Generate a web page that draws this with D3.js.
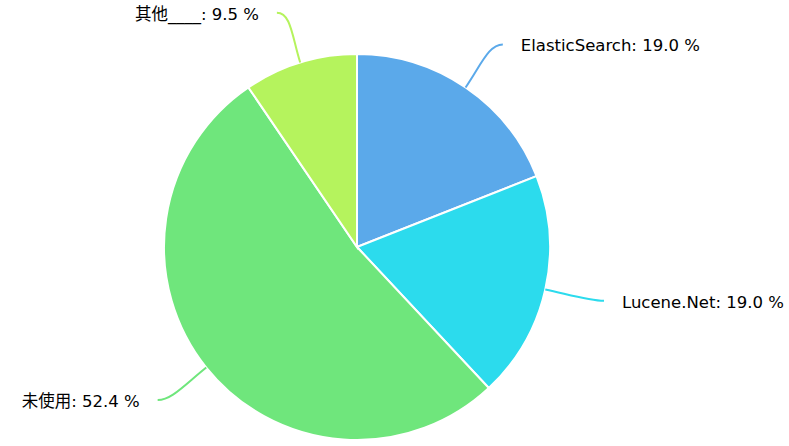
<!DOCTYPE html>
<html><head><meta charset="utf-8">
<script src="https://cdn.jsdelivr.net/npm/d3@7"></script>
<style>body{margin:0;background:#fff}</style>
</head><body>
<svg id="c" width="789" height="446"></svg>
<script>
const categories = ["ElasticSearch", "Lucene.Net", "未使用", "其他____"];
const values = [19.0, 19.0, 52.4, 9.5];
const colors = ["#5ba9ea", "#2cdbed", "#6fe67c", "#b5f35d"];

const W = 789, H = 446, cx = 357, cy = 247, r = 193;
const svg = d3.select("#c");
const g = svg.append("g").attr("transform", `translate(${cx},${cy})`);
const data = categories.map((c, i) => ({c, v: values[i], col: colors[i]}));
const pie = d3.pie().value(d => d.v).sort(null);
const arc = d3.arc().innerRadius(0).outerRadius(r);
const arcs = pie(data);

g.selectAll("path.s").data(arcs).join("path").attr("class", "s")
  .attr("d", arc).attr("fill", d => d.data.col)
  .attr("stroke", "#fff").attr("stroke-width", 2);

const R = r + 52;
const font = "'DejaVu Sans', 'Noto Sans CJK SC', sans-serif";
arcs.forEach(a => {
  const m = (a.startAngle + a.endAngle) / 2;
  const s = Math.sin(m), c = -Math.cos(m);
  const side = s >= 0 ? 1 : -1;
  const p0 = [r * s, r * c];
  const p1 = [(r + 28) * s, (r + 28) * c];
  const p3 = [R * s + side * 8, R * c];
  const p2 = [p3[0] - side * 14, p3[1]];
  g.append("path")
    .attr("d", `M${p0[0]},${p0[1]} C${p1[0]},${p1[1]} ${p2[0]},${p2[1]} ${p3[0]},${p3[1]}`)
    .attr("fill", "none").attr("stroke", a.data.col).attr("stroke-width", 2);
  g.append("text")
    .attr("x", p3[0] + side * 18).attr("y", p3[1] + 1)
    .attr("dy", "0.35em")
    .attr("text-anchor", side > 0 ? "start" : "end")
    .attr("font-family", font).attr("font-size", 16.5).attr("fill", "#000")
    .text(`${a.data.c}: ${a.data.v.toFixed(1)} %`);
});
</script>
</body></html>
